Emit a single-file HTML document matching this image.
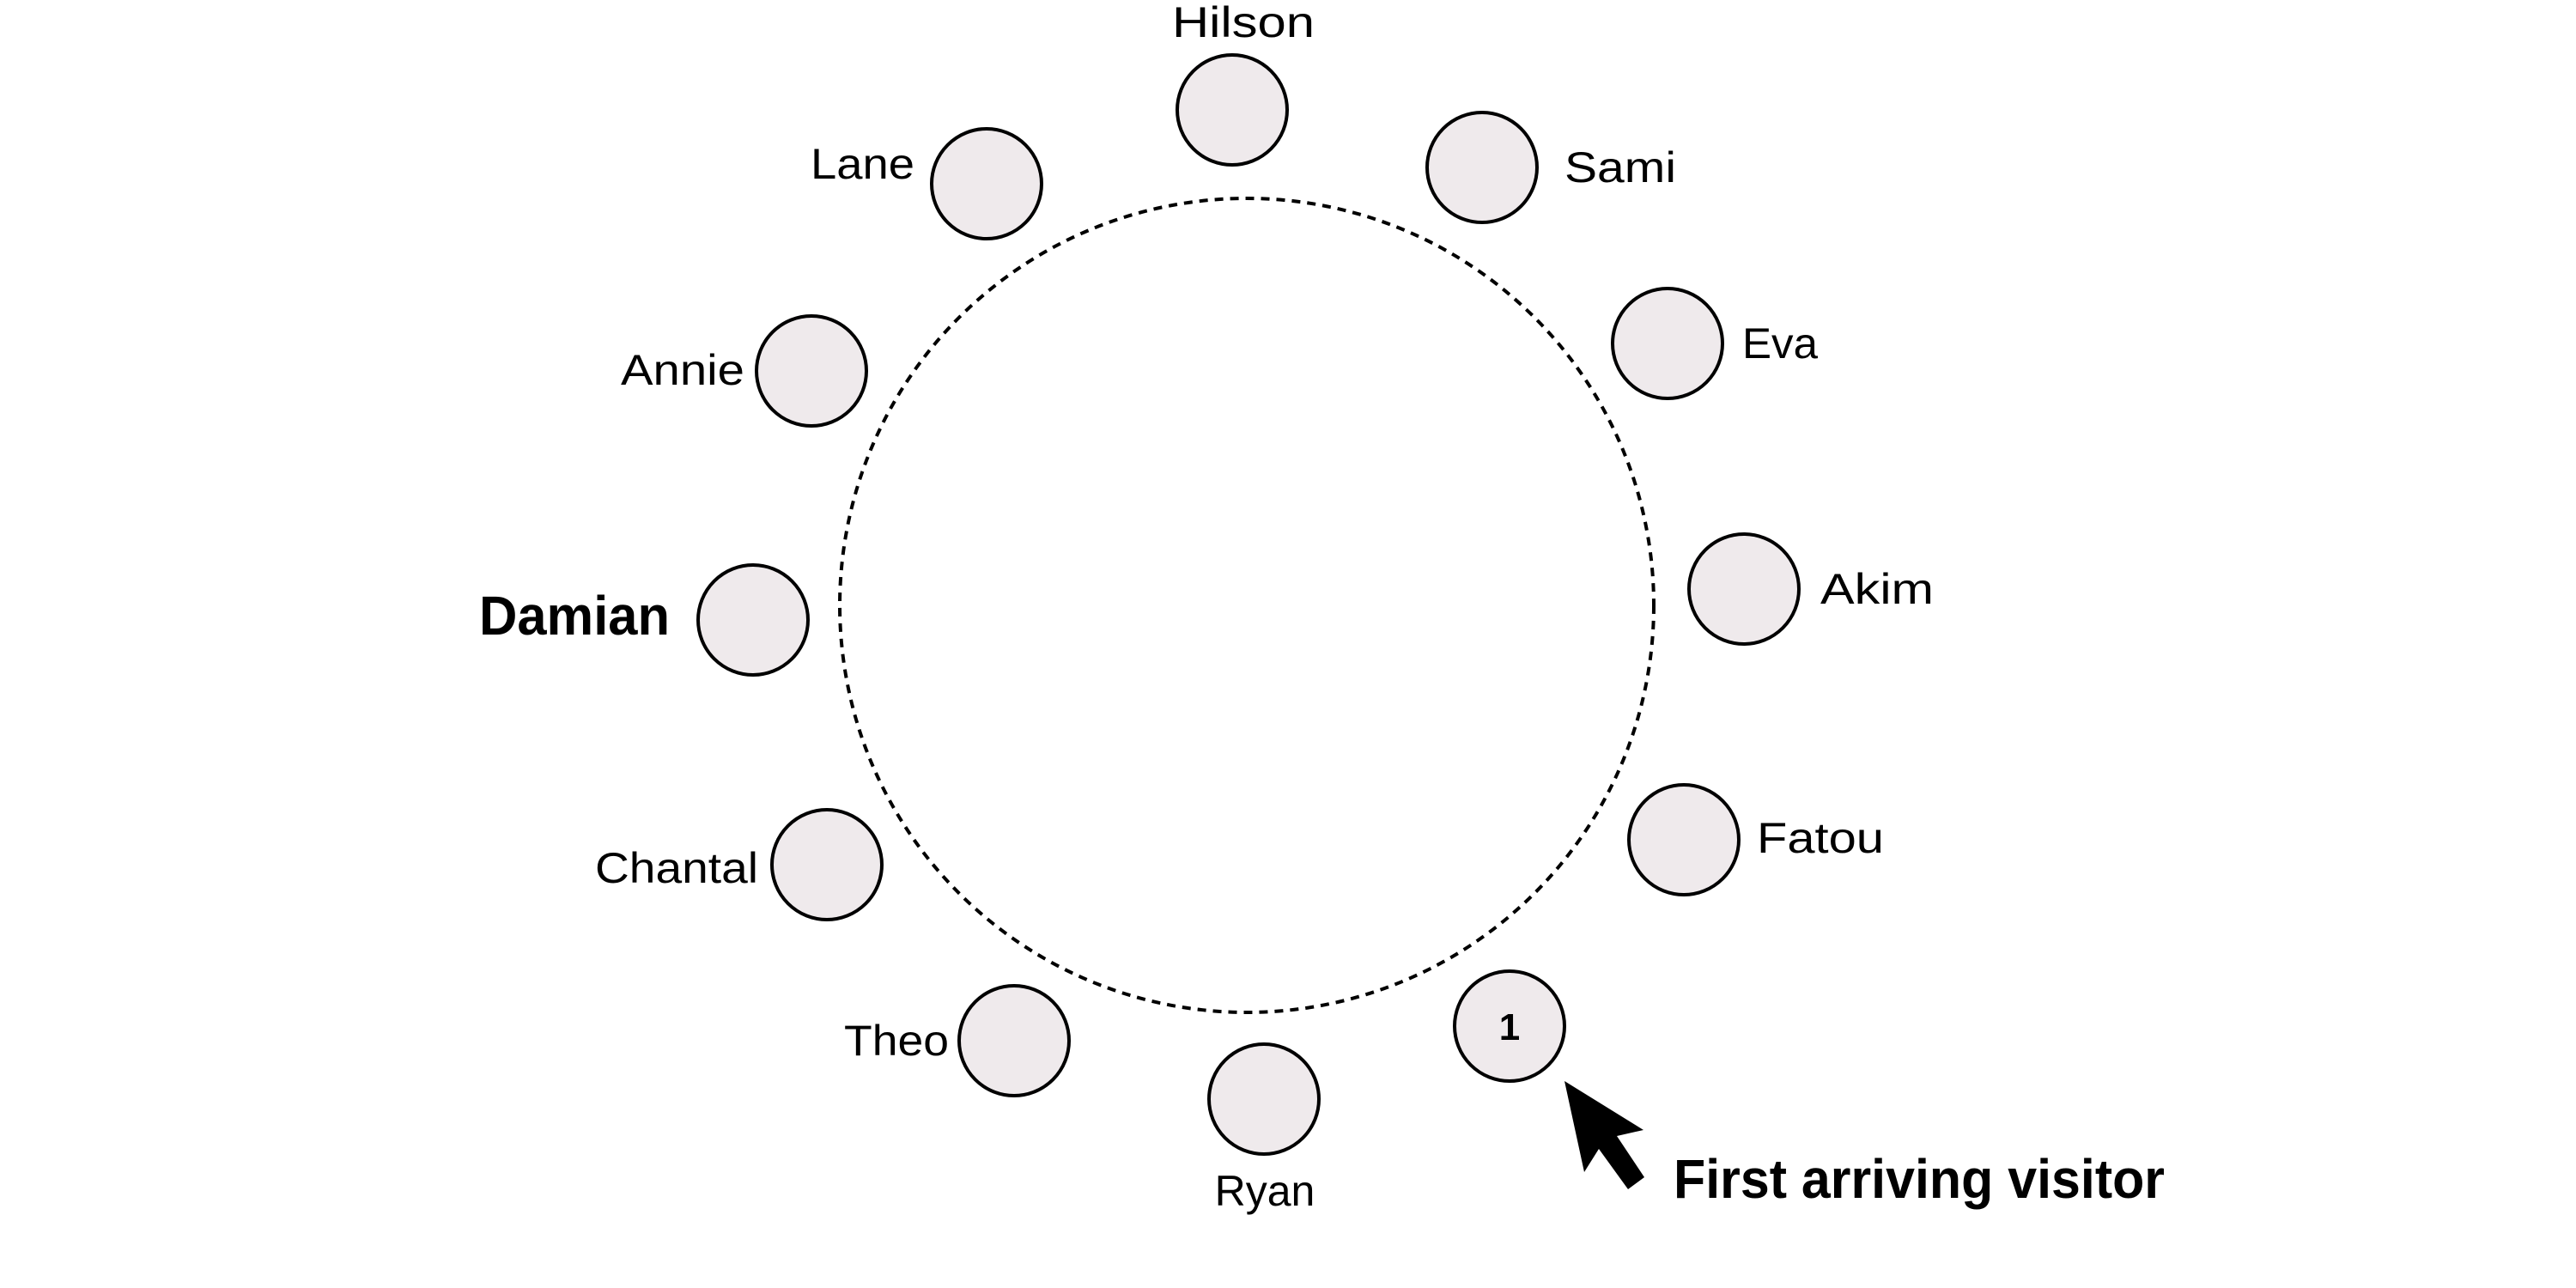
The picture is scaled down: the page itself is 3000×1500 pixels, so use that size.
<!DOCTYPE html>
<html><head><style>html,body{margin:0;padding:0;background:#fff;}svg{display:block;}</style></head>
<body>
<svg width="3000" height="1500" viewBox="0 0 3000 1500" xmlns="http://www.w3.org/2000/svg" font-family="'Liberation Sans', sans-serif">
<rect width="3000" height="1500" fill="#fff"/>
<circle cx="1452" cy="705" r="474" fill="none" stroke="#000" stroke-width="4" stroke-dasharray="10 8"/>
<g fill="#efeaec" stroke="#000" stroke-width="4">
<circle cx="1435" cy="128" r="64"/>
<circle cx="1149" cy="214" r="64"/>
<circle cx="945" cy="432" r="64"/>
<circle cx="877" cy="722" r="64"/>
<circle cx="963" cy="1007" r="64"/>
<circle cx="1181" cy="1212" r="64"/>
<circle cx="1472" cy="1280" r="64"/>
<circle cx="1758" cy="1195" r="64"/>
<circle cx="1961" cy="978" r="64"/>
<circle cx="2031" cy="686" r="64"/>
<circle cx="1942" cy="400" r="64"/>
<circle cx="1726" cy="195" r="64"/>
</g>
<g font-size="50" fill="#000">
<text x="1365" y="43" textLength="166" lengthAdjust="spacingAndGlyphs">Hilson</text>
<text x="944" y="208" textLength="121" lengthAdjust="spacingAndGlyphs">Lane</text>
<text x="723" y="448" textLength="144" lengthAdjust="spacingAndGlyphs">Annie</text>
<text x="1822" y="212" textLength="130" lengthAdjust="spacingAndGlyphs">Sami</text>
<text x="2029" y="417" textLength="88" lengthAdjust="spacingAndGlyphs">Eva</text>
<text x="2120" y="703" textLength="132" lengthAdjust="spacingAndGlyphs">Akim</text>
<text x="2046" y="993" textLength="148" lengthAdjust="spacingAndGlyphs">Fatou</text>
<text x="693" y="1028" textLength="190" lengthAdjust="spacingAndGlyphs">Chantal</text>
<text x="983" y="1229" textLength="122" lengthAdjust="spacingAndGlyphs">Theo</text>
<text x="1473" y="1404" text-anchor="middle">Ryan</text>
</g>
<text x="558" y="739" font-size="64" font-weight="bold" textLength="222" lengthAdjust="spacingAndGlyphs">Damian</text>
<text x="1758" y="1211" font-size="44" font-weight="bold" text-anchor="middle">1</text>
<text x="1949" y="1395" font-size="64" font-weight="bold" textLength="572" lengthAdjust="spacingAndGlyphs">First arriving visitor</text>
<polygon points="1822,1259 1914,1316 1883,1323 1915,1371 1896,1385 1862,1338 1845,1365" fill="#000"/>
</svg>
</body></html>
